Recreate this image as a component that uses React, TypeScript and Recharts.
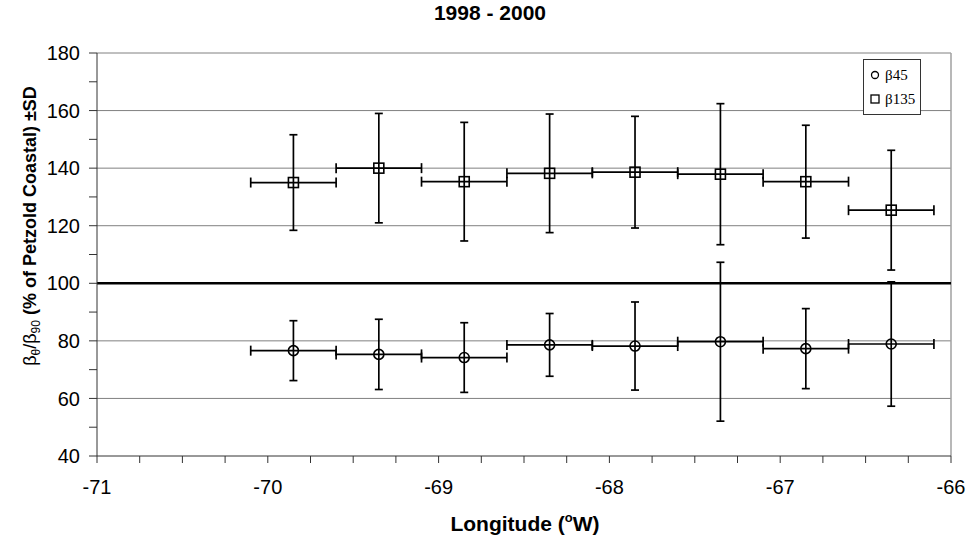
import { ScatterChart, Scatter, XAxis, YAxis, ErrorBar, ReferenceLine } from 'recharts';

// bin centres (deg W) and half bin width
const longitudes = [-69.85, -69.35, -68.85, -68.35, -67.85, -67.35, -66.85, -66.35];
const binHalfWidth = [0.25, 0.25, 0.25, 0.25, 0.25, 0.25, 0.25, 0.25];

// beta45 / beta90 as % of Petzold coastal, with SD
const beta45 = [76.6, 75.3, 74.2, 78.6, 78.2, 79.7, 77.3, 78.9];
const beta45Sd = [10.4, 12.2, 12.1, 10.9, 15.3, 27.6, 13.9, 21.6];

// beta135 / beta90
const beta135 = [135.0, 140.0, 135.3, 138.2, 138.6, 137.9, 135.3, 125.4];
const beta135Sd = [16.6, 19.0, 20.6, 20.6, 19.4, 24.5, 19.6, 20.8];

const xTicks = [
  -71, -70.75, -70.5, -70.25, -70, -69.75, -69.5, -69.25, -69, -68.75, -68.5, -68.25,
  -68, -67.75, -67.5, -67.25, -67, -66.75, -66.5, -66.25, -66,
];
const yTicks = [40, 50, 60, 70, 80, 90, 100, 110, 120, 130, 140, 150, 160, 170, 180];
const gridValues = [60, 80, 120, 140, 160];

const series45 = longitudes.map((x, i) => ({ x, y: beta45[i], xErr: binHalfWidth[i], yErr: beta45Sd[i] }));
const series135 = longitudes.map((x, i) => ({ x, y: beta135[i], xErr: binHalfWidth[i], yErr: beta135Sd[i] }));

const FONT = 'Arial, "Liberation Sans", sans-serif';

const CircleMark = (props: any) => (
  <circle cx={props.cx} cy={props.cy} r={5} fill="none" stroke="#000" strokeWidth={1.6} />
);

const SquareMark = (props: any) => (
  <rect x={props.cx - 5} y={props.cy - 5} width={10} height={10} fill="none" stroke="#000" strokeWidth={1.6} />
);

const YLabel = () => (
  <text x={36} y={226} transform="rotate(-90 36 226)" textAnchor="middle" fontFamily={FONT} fontSize={18} fill="#000">
    <tspan>β</tspan>
    <tspan fontSize={12} dy={4}>θ</tspan>
    <tspan dy={-4}>/β</tspan>
    <tspan fontSize={12} dy={4}>90</tspan>
    <tspan dy={-4} fontWeight="bold"> (% of Petzold Coastal) ±SD</tspan>
  </text>
);

const XLabel = () => (
  <text x={525} y={531} textAnchor="middle" fontFamily={FONT} fontSize={21} fontWeight="bold" fill="#000">
    Longitude (<tspan fontSize={13} dy={-9}>o</tspan>
    <tspan dy={9}>W)</tspan>
  </text>
);

const LegendBox = () => (
  <div
    style={{
      position: 'absolute',
      left: 863,
      top: 59,
      border: '1px solid #333',
      background: '#fff',
      width: 50,
      padding: '3px 0 3px 6px',
      fontFamily: '"Liberation Serif", "Times New Roman", serif',
      fontSize: 15,
      lineHeight: '24px',
      color: '#000',
    }}
  >
    <div style={{ display: 'flex', alignItems: 'center' }}>
      <svg width={10} height={10} style={{ marginRight: 5 }}>
        <circle cx={5} cy={5} r={3.5} fill="none" stroke="#000" strokeWidth={1.3} />
      </svg>
      β45
    </div>
    <div style={{ display: 'flex', alignItems: 'center' }}>
      <svg width={10} height={10} style={{ marginRight: 5 }}>
        <rect x={1} y={1} width={8} height={8} fill="none" stroke="#000" strokeWidth={1.3} />
      </svg>
      β135
    </div>
  </div>
);

export default function App() {
  return (
    <div style={{ position: 'absolute', left: 0, top: 0, width: 971, height: 544, background: '#fff' }}>
      <ScatterChart width={971} height={544} margin={{ top: 53, right: 20, bottom: 0, left: 0 }}>
        <XAxis
          type="number"
          dataKey="x"
          domain={[-71, -66]}
          ticks={xTicks}
          interval={0}
          tickFormatter={(v: number) => (Number.isInteger(v) ? String(v) : '')}
          height={88}
          tickSize={7}
          tickMargin={17}
          stroke="#333"
          tick={{ fill: '#000', fontSize: 20, fontFamily: FONT }}
          label={<XLabel />}
        />
        <YAxis
          type="number"
          dataKey="y"
          domain={[40, 180]}
          ticks={yTicks}
          interval={0}
          tickFormatter={(v: number) => (v % 20 === 0 ? String(v) : '')}
          width={97}
          tickSize={8}
          tickMargin={9}
          stroke="#333"
          tick={{ fill: '#000', fontSize: 20, fontFamily: FONT }}
          label={<YLabel />}
        />
        {gridValues.map((v) => (
          <ReferenceLine key={v} y={v} stroke="#808080" strokeWidth={1} />
        ))}
        <ReferenceLine y={180} stroke="#808080" strokeWidth={1} />
        <ReferenceLine x={-66} stroke="#a0a0a0" strokeWidth={1.5} />
        <ReferenceLine y={100} stroke="#000" strokeWidth={2.5} />
        <Scatter name="β45" data={series45} shape={<CircleMark />} isAnimationActive={false}>
          <ErrorBar dataKey="yErr" direction="y" width={4} stroke="#000" strokeWidth={1.7} />
          <ErrorBar dataKey="xErr" direction="x" width={5} stroke="#000" strokeWidth={1.7} />
        </Scatter>
        <Scatter name="β135" data={series135} shape={<SquareMark />} isAnimationActive={false}>
          <ErrorBar dataKey="yErr" direction="y" width={4} stroke="#000" strokeWidth={1.7} />
          <ErrorBar dataKey="xErr" direction="x" width={5} stroke="#000" strokeWidth={1.7} />
        </Scatter>
      </ScatterChart>
      <div
        style={{
          position: 'absolute',
          left: 0,
          width: 980,
          top: 1,
          textAlign: 'center',
          fontFamily: FONT,
          fontWeight: 'bold',
          fontSize: 21,
          color: '#000',
        }}
      >
        1998 - 2000
      </div>
      <LegendBox />
    </div>
  );
}
